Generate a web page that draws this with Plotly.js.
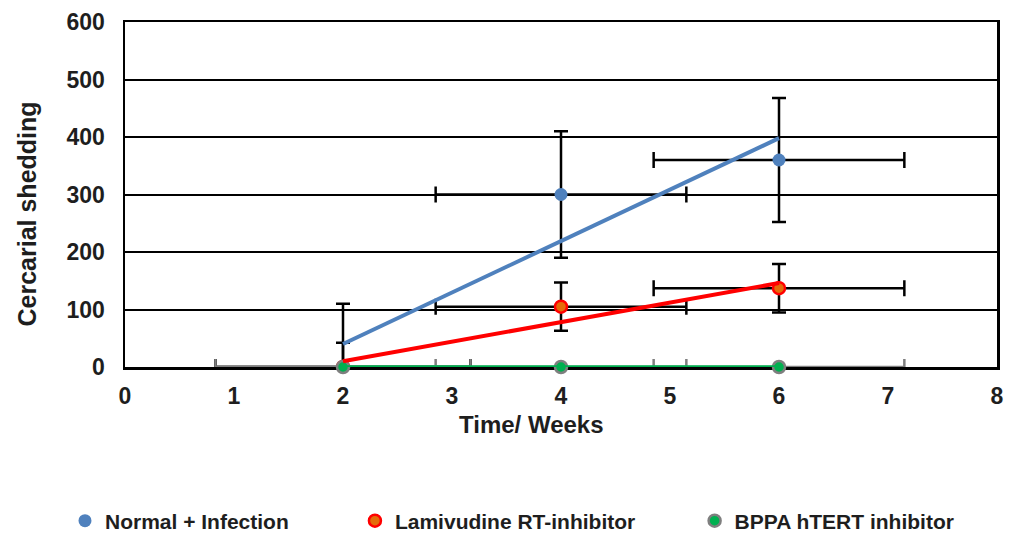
<!DOCTYPE html>
<html>
<head>
<meta charset="utf-8">
<script src="https://cdn.plot.ly/plotly-3.0.1.min.js"></script>
<style>html,body{margin:0;padding:0;background:#fff;}#chart{width:1017px;height:533px;}</style>
</head>
<body>
<div id="chart"></div>
<script>
// ---- data ----
const weeks = [2, 4, 6];
const seriesNames = ["Normal + Infection", "Lamivudine RT-inhibitor", "BPPA hTERT inhibitor"];
const normalValues = [0, 300, 360];
const normalErrY = [110, 110, 108];
const normalErrX = [1.17, 1.15, 1.15];
const lamivudineValues = [0, 105, 137];
const lamivudineErrY = [42, 42, 42];
const lamivudineErrX = [1.17, 1.15, 1.15];
const bppaValues = [0, 0, 0];
const bppaErrX = [1.17, 1.15, 1.15];
// linear trendline end points
const trendWeeks = [2, 6];
const normalTrend = [40, 398];
const lamivudineTrend = [10, 146];
const bppaTrend = [0, 0];
const xTicks = [0, 1, 2, 3, 4, 5, 6, 7, 8];
const yTicks = [0, 100, 200, 300, 400, 500, 600];

const FONT = "Liberation Sans, Arial, sans-serif";
const TXT = "#1e1e1e";
const BLUE = "#4f81bd";
const RED = "#ff0000";
const GREEN = "#00b050";
const GRAY = "#7f7f7f";

const traces = [
  {
    x: weeks, y: normalValues, name: seriesNames[0], type: "scatter", mode: "markers",
    marker: {color: BLUE, size: 13},
    error_y: {type: "data", array: normalErrY, visible: true, color: "#000", thickness: 2.5, width: 7},
    error_x: {type: "data", array: normalErrX, visible: true, color: "#000", thickness: 2.5, width: 8},
    legend: "legend"
  },
  {
    x: weeks, y: lamivudineValues, name: seriesNames[1], type: "scatter", mode: "markers",
    marker: {color: "#e46c0a", size: 12, line: {color: RED, width: 2.5}},
    error_y: {type: "data", array: lamivudineErrY, visible: true, color: "#000", thickness: 2.5, width: 7},
    error_x: {type: "data", array: lamivudineErrX, visible: true, color: "#000", thickness: 2.5, width: 8},
    legend: "legend2"
  },
  {
    x: weeks, y: bppaValues, name: seriesNames[2], type: "scatter", mode: "markers",
    marker: {color: GREEN, size: 12, line: {color: GRAY, width: 2.5}},
    error_x: {type: "data", array: bppaErrX, visible: true, color: GRAY, thickness: 2.5, width: 8},
    cliponaxis: false,
    legend: "legend3"
  },
  {
    x: trendWeeks, y: normalTrend, type: "scatter", mode: "lines", showlegend: false,
    line: {color: BLUE, width: 4}, hoverinfo: "skip"
  },
  {
    x: trendWeeks, y: lamivudineTrend, type: "scatter", mode: "lines", showlegend: false,
    line: {color: RED, width: 4}, hoverinfo: "skip"
  },
  {
    x: trendWeeks, y: bppaTrend, type: "scatter", mode: "lines", showlegend: false,
    line: {color: GREEN, width: 3.5}, hoverinfo: "skip", cliponaxis: false
  }
];

const legendBase = {
  orientation: "h", yanchor: "middle", xanchor: "left",
  xref: "container", yref: "container", y: 0.0225,
  bgcolor: "rgba(0,0,0,0)", font: {family: FONT, size: 21, color: TXT, weight: "bold"},
  itemwidth: 30
};

const layout = {
  width: 1017, height: 533,
  margin: {l: 125, r: 20, t: 22, b: 166},
  paper_bgcolor: "#fff", plot_bgcolor: "#fff",
  showlegend: true,
  xaxis: {
    range: [0, 8], tickvals: xTicks, ticktext: xTicks.map(String),
    showgrid: false, zeroline: false,
    showline: true, linecolor: "#000", linewidth: 2.5, mirror: true,
    ticks: "", ticklabelstandoff: 7, layer: "below traces",
    tickfont: {family: FONT, size: 23, color: TXT, weight: "bold"}
  },
  yaxis: {
    range: [0, 600], tickvals: yTicks, ticktext: yTicks.map(String),
    showgrid: true, gridcolor: "#000", gridwidth: 2, zeroline: false,
    showline: true, linecolor: "#000", linewidth: 2.5, mirror: true,
    ticks: "", ticklabelstandoff: 13, layer: "below traces",
    tickfont: {family: FONT, size: 23, color: TXT, weight: "bold"}
  },
  legend: Object.assign({}, legendBase, {x: 0.0639}),
  legend2: Object.assign({}, legendBase, {x: 0.349}),
  legend3: Object.assign({}, legendBase, {x: 0.683}),
  annotations: [
    {text: "Cercarial shedding", xref: "paper", yref: "paper", x: -0.112, y: 0.443,
     xanchor: "center", yanchor: "middle", textangle: -90, showarrow: false,
     font: {family: FONT, size: 25, color: TXT, weight: "bold"}},
    {text: "Time/ Weeks", xref: "paper", yref: "paper", x: 0.466, y: -0.166,
     xanchor: "center", yanchor: "middle", showarrow: false,
     font: {family: FONT, size: 24, color: TXT, weight: "bold"}}
  ]
};

Plotly.newPlot("chart", traces, layout, {staticPlot: true, displayModeBar: false});
</script>
</body>
</html>
